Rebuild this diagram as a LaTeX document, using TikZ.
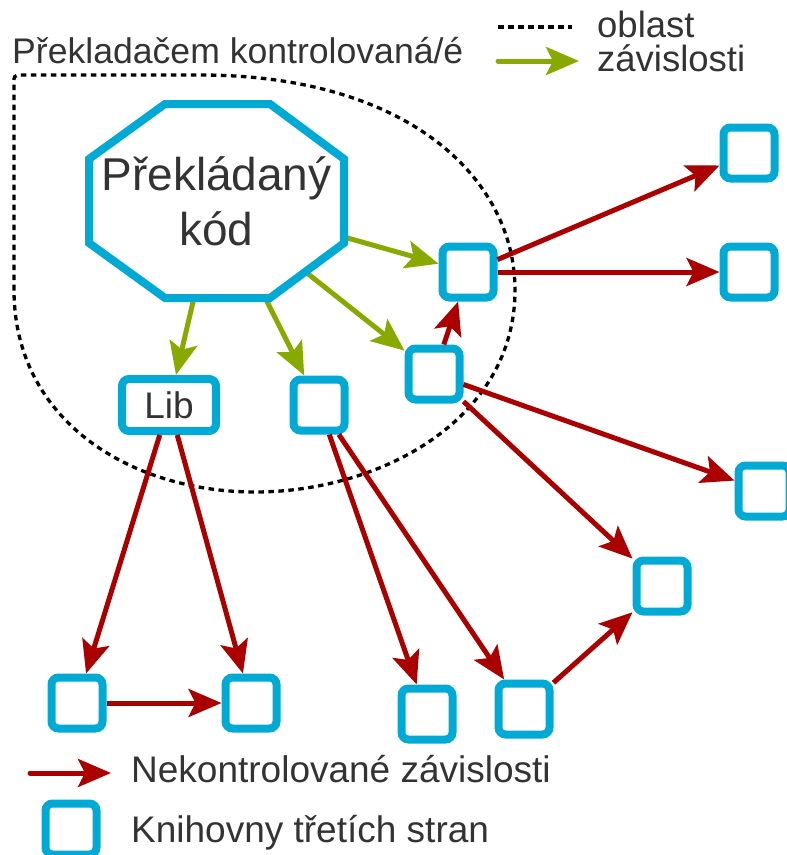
\documentclass[tikz,border=0pt]{standalone}
\usepackage{fontspec}
\setmainfont{Liberation Sans}
\usetikzlibrary{arrows.meta,intersections}
\definecolor{libblue}{RGB}{0,170,212}
\definecolor{depgreen}{RGB}{136,170,0}
\definecolor{depred}{RGB}{170,0,0}
\definecolor{txtgray}{RGB}{51,51,51}
\begin{document}
\begin{tikzpicture}[x=1pt,y=-1pt,
  libbox/.style={draw=libblue,line width=8pt,rounded corners=7pt,minimum width=51pt,minimum height=51pt,inner sep=0pt,fill=white},
  garrow/.style={draw=depgreen,line width=5pt,-{Stealth[length=33pt,width=28pt,inset=7pt]}},
  rarrow/.style={draw=depred,line width=5pt,-{Stealth[length=33pt,width=28pt,inset=7pt]}},
  region/.style={draw=black,line width=3.3pt,dash pattern=on 5.5pt off 4.5pt},
  lbl/.style={text=txtgray,font=\fontsize{36.5}{36.5}\selectfont,inner sep=0pt,anchor=base west}
]
\useasboundingbox (0,0) rectangle (787,855);

% dependency region
\draw[region] (14,290) -- (14,82) .. controls (14,76) .. (20,75) -- (200,75)
  .. controls (410,75) and (515,180) .. (515,290)
  .. controls (515,420) and (380,492) .. (255,492)
  .. controls (130,492) and (14,420) .. (14,290);

% boxes
\node[libbox] (tr1) at (749,153) {};
\node[libbox] (tr2) at (749,272) {};
\node[libbox] (r3) at (764,491) {};
\node[libbox] (a) at (468,272) {};
\node[libbox] (b) at (434,374) {};
\node[libbox,minimum width=94pt,minimum height=52pt,text=txtgray,font=\fontsize{37}{37}\selectfont] (lib) at (169,405) {Lib};
\node[libbox] (c) at (319,405) {};
\node[libbox] (r4) at (662,586) {};
\node[libbox] (bl1) at (77,703) {};
\node[libbox] (bl2) at (251,703) {};
\node[libbox] (bm1) at (427,714) {};
\node[libbox] (bm2) at (524,709) {};
\node[libbox] (lg) at (71,829) {};

% octagon
\coordinate (oct) at (216.5,201);
\path[name path=octp] (165,104) -- (270,104) -- (344,159) -- (344,243) -- (270,298) -- (165,298) -- (89,243) -- (89,159) -- cycle;
\path[name path=ga] (oct) -- (a);
\path[name path=gb] (oct) -- (b);
\path[name path=gl] (oct) -- (lib);
\path[name path=gc] (oct) -- (c);
\path[name intersections={of=octp and ga, by={ia}}];
\path[name intersections={of=octp and gb, by={ib}}];
\path[name intersections={of=octp and gl, by={il}}];
\path[name intersections={of=octp and gc, by={ic}}];
\draw[garrow] (ia) -- (a);
\draw[garrow] (ib) -- (b);
\draw[garrow] (il) -- (lib);
\draw[garrow] (ic) -- (c);
\draw[draw=libblue,line width=8pt] (165,104) -- (270,104) -- (344,159) -- (344,243) -- (270,298) -- (165,298) -- (89,243) -- (89,159) -- cycle;
\node[text=txtgray,font=\fontsize{46}{46}\selectfont,inner sep=0pt,anchor=base] (code1) at (216.5,190) {Překládaný};
\node[text=txtgray,font=\fontsize{46}{46}\selectfont,inner sep=0pt,anchor=base] (code2) at (216.5,245) {kód};

% uncontrolled dependencies
\draw[rarrow] (a) -- (tr1);
\draw[rarrow] (a) -- (tr2);
\draw[rarrow] (b) -- (a);
\draw[rarrow] (b) -- (r3);
\draw[rarrow] (b) -- (r4);
\draw[rarrow] (lib) -- (bl1);
\draw[rarrow] (lib) -- (bl2);
\draw[rarrow] (bl1) -- (bl2);
\draw[rarrow] (c) -- (bm1);
\draw[rarrow] (c) -- (bm2);
\draw[rarrow] (bm2) -- (r4);

% texts and legend
\node[lbl,font=\fontsize{35.6}{35.6}\selectfont] (title) at (12,63) {Překladačem kontrolovaná/é};
\coordinate (d1) at (498,27);
\coordinate (d2) at (572,27);
\draw[region] (d1) -- (d2);
\coordinate (g1) at (498,61);
\coordinate (g2) at (579,61);
\draw[garrow,line cap=round] (g1) -- (g2);
\node[lbl] (ob1) at (597,37) {oblast};
\node[lbl] (ob2) at (597,71) {závislosti};
\coordinate (lr1) at (30,773);
\coordinate (lr2) at (111,773);
\draw[rarrow,line cap=round] (lr1) -- (lr2);
\node[lbl,font=\fontsize{37}{37}\selectfont] (lg1) at (131,782) {Nekontrolované závislosti};
\node[lbl,font=\fontsize{37}{37}\selectfont] (lg2) at (131,842) {Knihovny třetích stran};
\end{tikzpicture}
\end{document}
